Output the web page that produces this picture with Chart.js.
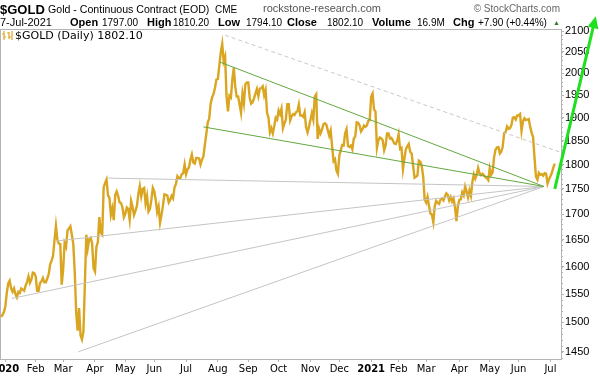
<!DOCTYPE html>
<html>
<head>
<meta charset="utf-8">
<script src="https://cdn.jsdelivr.net/npm/chart.js@4/dist/chart.umd.min.js"></script>
<style>
body { margin: 0; background: #fff; }
#wrap { position: relative; width: 600px; height: 376px; overflow: hidden; }
#wrap span { position: absolute; white-space: nowrap; line-height: 1; color: #000; font-family: "Liberation Sans", Arial, sans-serif; }
.b { font-weight: bold; font-size: 11px; }
.n { font-size: 10px; }
</style>
</head>
<body>
<div id="wrap">
<canvas id="myChart" width="600" height="376"></canvas>
<span style="left:0;top:3px;font-size:13px;font-weight:bold">$GOLD</span>
<span style="left:48px;top:4px;font-size:10.6px">Gold - Continuous Contract (EOD)</span>
<span style="left:215px;top:5px;font-size:10px">CME</span>
<span style="left:263px;top:3px;font-size:11px;color:#555">rockstone-research.com</span>
<span style="right:40px;top:4px;font-size:10px;color:#666">&copy; StockCharts.com</span>
<span style="left:0;top:17px;font-size:11px">7-Jul-2021</span>
<span class="b" style="left:70px;top:17px">Open</span>
<span class="n" style="left:102px;top:18px">1797.00</span>
<span class="b" style="left:147px;top:17px">High</span>
<span class="n" style="left:173px;top:18px">1810.20</span>
<span class="b" style="left:218px;top:17px">Low</span>
<span class="n" style="left:246px;top:18px">1794.10</span>
<span class="b" style="left:287px;top:17px">Close</span>
<span class="n" style="left:327px;top:18px">1802.10</span>
<span class="b" style="left:372px;top:17px">Volume</span>
<span class="n" style="left:417px;top:18px">16.9M</span>
<span class="b" style="left:453px;top:17px">Chg</span>
<span class="n" style="left:478px;top:18px">+7.90 (+0.44%)</span>
<span style="left:553px;top:19px;font-size:7px;color:#2e7d32">&#9650;</span>
<svg style="position:absolute;left:2px;top:31px" width="11" height="9"><path d="M2 0V9M0 3H2M2 6H4M7 1V8M5 2H7M7 6H9M10 0V9" stroke="#daa520" stroke-width="1.2" fill="none"/></svg>
<span style="left:15px;top:30px;font-size:11px;font-family:'DejaVu Sans'">$GOLD (Daily) 1802.10</span>
</div>
<script>
// daily closes, month by month
const dec2019 = [1510, 1513, 1518];
const jan2020 = [1528, 1552, 1569, 1574, 1560, 1554, 1560, 1550, 1544, 1554, 1552, 1560, 1558, 1556, 1565, 1572, 1582, 1570, 1576, 1589, 1588];
const feb2020 = [1582, 1556, 1556, 1570, 1573, 1579, 1571, 1571, 1578, 1586, 1604, 1611, 1620, 1649, 1677, 1650, 1643, 1642, 1567];
const mar2020 = [1595, 1644, 1637, 1668, 1672, 1676, 1660, 1642, 1590, 1517, 1486, 1525, 1478, 1471, 1484, 1567, 1660, 1634, 1651, 1654, 1644, 1597];
const apr2020 = [1591, 1637, 1646, 1694, 1664, 1660, 1753, 1762, 1769, 1737, 1732, 1698, 1711, 1688, 1738, 1745, 1736, 1723, 1722, 1713, 1694];
const may2020 = [1701, 1713, 1710, 1689, 1726, 1714, 1698, 1706, 1716, 1740, 1756, 1735, 1750, 1752, 1721, 1736, 1705, 1710, 1728, 1752];
const jun2020 = [1745, 1728, 1704, 1715, 1683, 1698, 1716, 1739, 1738, 1737, 1723, 1728, 1736, 1731, 1753, 1760, 1776, 1772, 1772, 1780, 1782, 1800];
const jul2020 = [1780, 1790, 1794, 1810, 1821, 1804, 1802, 1814, 1814, 1813, 1800, 1810, 1817, 1842, 1865, 1890, 1898, 1931, 1945, 1953, 1967, 1986];
const aug2020 = [1987, 2019, 2049, 2069, 2028, 2039, 1946, 1914, 1949, 1945, 1986, 2013, 1970, 1947, 1947, 1929, 1911, 1953, 1932, 1975, 1979];
const sep2020 = [1979, 1945, 1931, 1934, 1943, 1954, 1964, 1948, 1965, 1966, 1970, 1950, 1962, 1911, 1900, 1868, 1877, 1866, 1882, 1900, 1896];
const oct2020 = [1916, 1908, 1920, 1877, 1887, 1896, 1930, 1930, 1894, 1903, 1908, 1906, 1912, 1914, 1929, 1905, 1905, 1902, 1912, 1879, 1868, 1880];
const nov2020 = [1895, 1910, 1896, 1947, 1952, 1854, 1876, 1866, 1874, 1886, 1888, 1885, 1873, 1861, 1872, 1838, 1807, 1811, 1788, 1781];
const dec2020 = [1819, 1830, 1841, 1840, 1866, 1875, 1839, 1837, 1840, 1832, 1855, 1859, 1890, 1889, 1883, 1870, 1875, 1883, 1880, 1883, 1893, 1895];
const jan2021 = [1947, 1954, 1918, 1914, 1835, 1851, 1857, 1855, 1851, 1830, 1840, 1866, 1866, 1855, 1856, 1851, 1844, 1843, 1850];
const feb2021 = [1864, 1833, 1835, 1791, 1813, 1832, 1838, 1843, 1827, 1823, 1798, 1773, 1775, 1777, 1808, 1806, 1797, 1775, 1729];
const mar2021 = [1723, 1734, 1716, 1701, 1699, 1684, 1716, 1726, 1722, 1720, 1729, 1731, 1727, 1735, 1741, 1738, 1727, 1734, 1725, 1731, 1713, 1686, 1716];
const apr2021 = [1728, 1729, 1743, 1737, 1755, 1745, 1733, 1747, 1736, 1764, 1780, 1771, 1779, 1793, 1782, 1778, 1781, 1778, 1774, 1772, 1768];
const may2021 = [1792, 1779, 1784, 1815, 1831, 1836, 1837, 1823, 1827, 1838, 1867, 1869, 1881, 1876, 1877, 1884, 1900, 1901, 1896, 1905];
const jun2021 = [1905, 1908, 1871, 1892, 1899, 1895, 1896, 1897, 1880, 1867, 1858, 1814, 1775, 1769, 1783, 1779, 1780, 1777, 1782, 1781, 1761, 1770];
const jul2021 = [1776, 1783, 1794, 1802];

const months = [dec2019, jan2020, feb2020, mar2020, apr2020, may2020, jun2020, jul2020, aug2020, sep2020, oct2020, nov2020, dec2020,
  jan2021, feb2021, mar2021, apr2021, may2021, jun2021, jul2021];
const monthLabels = ["", "2020", "Feb", "Mar", "Apr", "May", "Jun", "Jul", "Aug", "Sep", "Oct", "Nov", "Dec",
  "2021", "Feb", "Mar", "Apr", "May", "Jun", "Jul"];
const yTicks = [1450, 1500, 1550, 1600, 1650, 1700, 1750, 1800, 1850, 1900, 1950, 2000, 2050, 2100];

// trend lines: [bar index, price]
const apex = [375.5, 1755];
const fanStarts = [[74.2, 1772], [38.5, 1648], [7.4, 1542], [53.5, 1450]];
const channelStarts = [[151.5, 2026], [140, 1880]];
const resistance = [[155, 2090], [386.6, 1826]];
const arrow = [[383, 1750], [410.4, 2122]];

const closes = [];
const tickPos = [];
const tickText = [];
months.forEach((m, i) => {
  if (monthLabels[i]) { tickPos.push(closes.length); tickText.push(monthLabels[i]); }
  m.forEach(v => closes.push(v));
});

const pt = (p) => ({ x: p[0], y: p[1] });
const seg = (a, b, color, dash) => ({
  data: [pt(a), pt(b)], borderColor: color, borderWidth: 1, borderDash: dash || [],
  pointRadius: 0, order: 1
});

const ARROW_GREEN = "#1ee01e";
const datasets = [];
datasets.push({
  data: arrow.map(pt), borderColor: ARROW_GREEN, borderWidth: 3, clip: false, order: 0, pointRadius: 0
});
channelStarts.forEach(s => datasets.push(seg(s, apex, "#62a83e")));
fanStarts.forEach(s => datasets.push(seg(s, apex, "#c4c4c4")));
datasets.push(seg(resistance[0], resistance[1], "#c8c8c8", [4, 3]));
datasets.push({
  data: closes.map((c, i) => ({ x: i, y: c })),
  borderColor: "#daa520", borderWidth: 2.4, pointRadius: 0, tension: 0, order: 5
});

const frame = {
  id: "frame",
  beforeDatasetsDraw(chart) {
    const { ctx, chartArea: a, scales } = chart;
    ctx.save();
    ctx.strokeStyle = "#b4b4b4";
    ctx.lineWidth = 1;
    ctx.strokeRect(a.left + 0.5, a.top + 0.5, a.right - a.left, a.bottom - a.top);
    // minor ticks on the price axis
    for (let v = 1440; v <= 2100; v += 10) {
      const y = Math.round(scales.y.getPixelForValue(v)) + 0.5;
      ctx.beginPath();
      ctx.moveTo(a.right, y);
      ctx.lineTo(a.right + 2, y);
      ctx.stroke();
    }
    ctx.restore();
  },
  afterDatasetsDraw(chart) {
    // arrow head at the end of the green arrow
    const { ctx, scales } = chart;
    const x0 = scales.x.getPixelForValue(arrow[0][0]), y0 = scales.y.getPixelForValue(arrow[0][1]);
    const x1 = scales.x.getPixelForValue(arrow[1][0]), y1 = scales.y.getPixelForValue(arrow[1][1]);
    const len = Math.hypot(x1 - x0, y1 - y0);
    const ux = (x1 - x0) / len, uy = (y1 - y0) / len;
    ctx.save();
    ctx.fillStyle = ARROW_GREEN;
    ctx.beginPath();
    ctx.moveTo(x1 + ux * 6, y1 + uy * 6);
    ctx.lineTo(x1 - ux * 6 - uy * 5.5, y1 - uy * 6 + ux * 5.5);
    ctx.lineTo(x1 - ux * 6 + uy * 5.5, y1 - uy * 6 - ux * 5.5);
    ctx.closePath();
    ctx.fill();
    ctx.restore();
  }
};

new Chart(document.getElementById("myChart"), {
  type: "line",
  data: { datasets: datasets },
  plugins: [frame],
  options: {
    responsive: false,
    animation: false,
    devicePixelRatio: 1,
    layout: { padding: { top: 29, left: 0, right: 0, bottom: 0 }, autoPadding: false },
    plugins: { legend: { display: false }, tooltip: { enabled: false } },
    scales: {
      x: {
        type: "linear",
        min: -0.69,
        max: 387.3,
        afterFit(s) { s.height = 17; s.paddingLeft = 0; s.paddingRight = 0; },
        afterBuildTicks(s) { s.ticks = tickPos.map(v => ({ value: v })); },
        ticks: {
          autoSkip: false, maxRotation: 0, padding: 1, color: "#000",
          font: (ctx) => ({
            family: "DejaVu Sans", size: 10,
            weight: ctx.index !== undefined && /^\d+$/.test(tickText[ctx.index]) ? "bold" : "normal"
          }),
          callback: (v, i) => tickText[i]
        },
        grid: { drawOnChartArea: false, tickLength: 3, color: "#b4b4b4" },
        border: { color: "#b4b4b4" }
      },
      y: {
        type: "logarithmic",
        position: "right",
        min: 1438,
        max: 2105,
        afterFit(s) { s.width = 39; s.paddingTop = 0; s.paddingBottom = 0; },
        afterBuildTicks(s) { s.ticks = yTicks.map(v => ({ value: v })); },
        ticks: {
          autoSkip: false, padding: 1, color: "#000",
          font: { family: "Liberation Sans", size: 11 },
          callback: (v) => String(v)
        },
        grid: { drawOnChartArea: false, tickLength: 3, color: "#b4b4b4" },
        border: { color: "#b4b4b4" }
      }
    }
  }
});
</script>
</body>
</html>
